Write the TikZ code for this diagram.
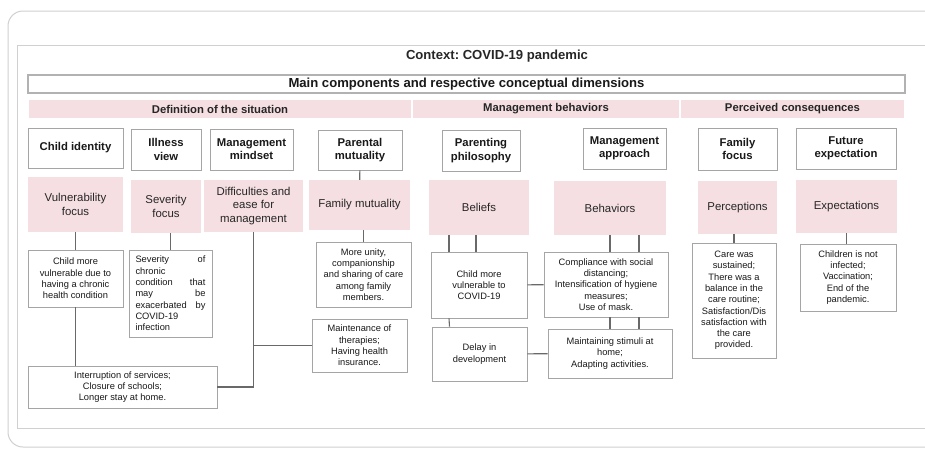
\documentclass[tikz,border=0pt]{standalone}
\usepackage{fontspec}
\setmainfont{Liberation Sans}
\usepackage{xcolor}
\usepackage{tikz}
\frenchspacing

\definecolor{dimpink}{RGB}{245,223,226}
\definecolor{boxgray}{RGB}{165,165,165}
\definecolor{linegray}{RGB}{105,105,105}
\definecolor{framegray}{RGB}{208,208,208}

\begin{document}
\begin{tikzpicture}[x=1pt, y=-1pt,
    box/.style={draw=boxgray, line width=0.9pt, fill=white, align=center, inner sep=2pt, text=black!90},
    hdr/.style={box, font=\fontsize{11.3}{13.3}\selectfont\bfseries},
    dim/.style={fill=dimpink, align=center, inner sep=2pt, text=black!85, font=\fontsize{11.4}{13.7}\selectfont},
    item/.style={box, font=\fontsize{9.3}{11.3}\selectfont},
    band/.style={fill=dimpink, draw=white, line width=1.5pt, minimum height=20, text=black!85, font=\fontsize{11.3}{13}\selectfont\bfseries},
    link/.style={draw=linegray, line width=1.1pt},
]
\useasboundingbox (0,0) rectangle (925,450);
\clip (0,0) rectangle (925,450);

% Frames
\draw[framegray, line width=1pt, rounded corners=15] (8,11) rectangle (940,447);
\draw[framegray, line width=1pt] (17,45) rectangle (940,428);

% Context and components
\node[font=\fontsize{13.1}{15}\selectfont\bfseries, text=black!85] (ctx) at (497,56) {Context: COVID-19 pandemic};
\node[box, draw=gray!60, line width=1.8pt, minimum width=877, minimum height=18, font=\fontsize{13.1}{15}\selectfont\bfseries] (mainc) at (466.5,84) {Main components and respective conceptual dimensions};
\node[band, minimum width=384] (sec1) at (220,109) {Definition of the situation};
\node[band, minimum width=268] (sec2) at (546,109) {Management behaviors};
\node[band, minimum width=225] (sec3) at (792.5,109) {Perceived consequences};

% Components
\node[hdr, minimum width=95, minimum height=40] (ci) at (75.5,148) {Child identity};
\node[hdr, minimum width=70, minimum height=41] (iv) at (166,149.5) {Illness\\view};
\node[hdr, minimum width=83, minimum height=41] (mm) at (251.5,149.5) {Management\\mindset};
\node[hdr, minimum width=84, minimum height=40] (pm) at (360,150) {Parental\\mutuality};
\node[hdr, minimum width=78, minimum height=41] (pp) at (481,150.5) {Parenting\\philosophy};
\node[hdr, minimum width=83, minimum height=41] (ma) at (624.5,148.5) {Management\\approach};
\node[hdr, minimum width=79, minimum height=42] (ff) at (737.5,149) {Family\\focus};
\node[hdr, minimum width=100, minimum height=41] (fe) at (846,148.5) {Future\\expectation};

% Dimensions
\node[dim, minimum width=95, minimum height=55] (vf) at (75.5,204.5) {Vulnerability\\focus};
\node[dim, minimum width=70, minimum height=53] (sf) at (166,206.5) {Severity\\focus};
\node[dim, minimum width=99, minimum height=52] (de) at (253.5,206) {Difficulties and\\ease for\\management};
\node[dim, minimum width=101, minimum height=50] (fm) at (359.5,205) {Family mutuality};
\node[dim, minimum width=100, minimum height=55] (be) at (479,207.5) {Beliefs};
\node[dim, minimum width=112, minimum height=54] (bh) at (610,208) {Behaviors};
\node[dim, minimum width=79, minimum height=53] (pc) at (737.5,207.5) {Perceptions};
\node[dim, minimum width=101, minimum height=53] (ex) at (846.5,206.5) {Expectations};

% Contents
\node[item, minimum width=95, minimum height=57] (cv1) at (75.5,278.5) {Child more\\vulnerable due to\\having a chronic\\health condition};
\node[item, text width=70, align=left, minimum width=83, minimum height=87] (sv) at (170.5,293.5) {Severity\hfill of\\chronic\\condition\hfill that\\may\hfill be\\exacerbated\hfill by\\COVID-19\\infection};
\node[item, minimum width=189, minimum height=42] (in) at (122.5,387) {Interruption of services;\\Closure of schools;\\Longer stay at home.};
\node[item, minimum width=95, minimum height=65] (mu) at (363.5,274.5) {More unity,\\companionship\\and sharing of care\\among family\\members.};
\node[item, minimum width=95, minimum height=53] (mt) at (359.5,345.5) {Maintenance of\\therapies;\\Having health\\insurance.};
\node[item, minimum width=96, minimum height=66] (cc) at (479,285) {Child more\\vulnerable to\\COVID-19};
\node[item, minimum width=95, minimum height=54] (dd) at (479.5,354) {Delay in\\development};
\node[item, minimum width=124, minimum height=65] (co) at (606,284.5) {Compliance with social\\distancing;\\Intensification of hygiene\\measures;\\Use of mask.};
\node[item, minimum width=124, minimum height=49] (ms) at (610,353.5) {Maintaining stimuli at\\home;\\Adapting activities.};
\node[item, minimum width=84, minimum height=115] (cs) at (734,300.5) {Care was\\sustained;\\There was a\\balance in the\\care routine;\\Satisfaction/Dis\\satisfaction with\\the care\\provided.};
\node[item, minimum width=96, minimum height=67] (cn) at (848,277.5) {Children is not\\infected;\\Vaccination;\\End of the\\pandemic.};

% Links
\draw[link] (pm) -- (fm);
\draw[link] (vf) -- (cv1);
\draw[link] (cv1.south) -- (cv1.south |- in.north);
\draw[link] (sv.north |- sf.south) -- (sv.north);
\draw[link] (de.south) |- (in.east);
\draw[link] (de.south |- mt.west) -- (mt.west);
\draw[link] (fm.south -| mu.north) -- (mu.north);
\foreach \dx in {-30,-3}
    \draw[link] ([xshift=\dx]be.south) -- ([xshift=\dx]cc.north);
\draw[link] ([xshift=-30]cc.south) -- ([xshift=-30]dd.north);
\draw[link] (cc) -- (co);
\draw[link] (dd) -- (ms);
\foreach \dx in {0,29} {
    \draw[link] ([xshift=\dx]bh.south) -- ([xshift=\dx]bh.south |- co.north);
    \draw[link] ([xshift=\dx]ms.north |- co.south) -- ([xshift=\dx]ms.north);
}
\draw[link] (cs.north |- pc.south) -- (cs.north);
\draw[link] (ex.south) -- (ex.south |- cn.north);

\end{tikzpicture}
\end{document}
